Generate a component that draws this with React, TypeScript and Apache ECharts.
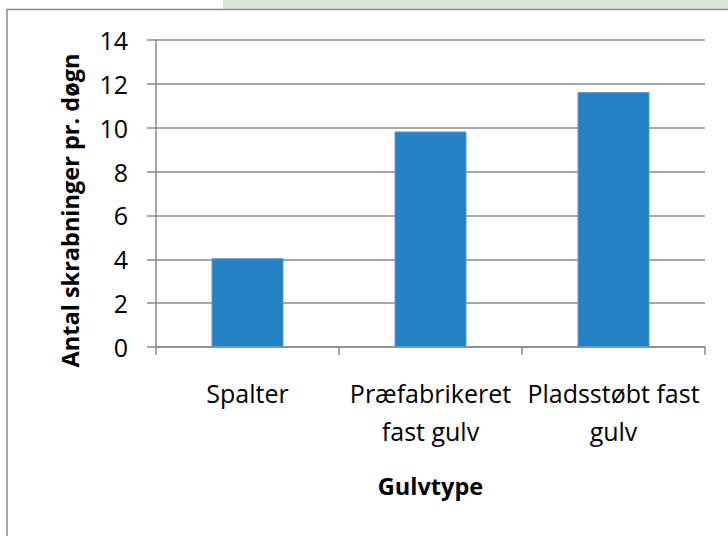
import React, { useEffect, useRef } from "react";
import * as echarts from "echarts";

const categories = ["Spalter", "Præfabrikeret\nfast gulv", "Pladsstøbt fast\ngulv"];
const values = [4.05, 9.83, 11.63];
const xTitle = "Gulvtype";
const yTitle = "Antal skrabninger pr. døgn";

const FONT = "'Open Sans', 'Noto Sans', sans-serif";
const GRAY = "#8a8a8a";

export default function App() {
  const ref = useRef<HTMLDivElement>(null);
  useEffect(() => {
    if (!ref.current) return;
    const chart = echarts.init(ref.current, null, { renderer: "svg" });
    chart.setOption({
      animation: false,
      backgroundColor: "#ffffff",
      graphic: [
        { type: "rect", shape: { x: 223, y: 0, width: 510, height: 9 }, style: { fill: "#d7e9d6" }, silent: true },
        { type: "rect", shape: { x: 7, y: 9.5, width: 760, height: 540 }, style: { fill: "none", stroke: GRAY, lineWidth: 1.5 }, silent: true },
      ],
      grid: { left: 156, right: 23, top: 40, bottom: 189 },
      xAxis: {
        type: "category",
        data: categories,
        name: xTitle,
        nameLocation: "middle",
        nameGap: 127,
        nameTextStyle: { fontFamily: FONT, fontSize: 23.5, fontWeight: "bold", color: "#000" },
        axisLine: { lineStyle: { color: GRAY, width: 1.5 } },
        axisTick: { show: true, length: 8, lineStyle: { color: GRAY, width: 1.5 } },
        axisLabel: { interval: 0, margin: 27, fontFamily: FONT, fontSize: 25, color: "#000", lineHeight: 38 },
      },
      yAxis: {
        type: "value",
        min: 0,
        max: 14,
        interval: 2,
        name: yTitle,
        nameLocation: "middle",
        nameRotate: 90,
        nameGap: 74,
        nameTextStyle: { fontFamily: FONT, fontSize: 23.5, fontWeight: "bold", color: "#000", padding: [0, 34, 0, 0] },
        axisLine: { show: true, lineStyle: { color: GRAY, width: 1.5 } },
        axisTick: { show: true, length: 9, lineStyle: { color: GRAY, width: 1.5 } },
        splitLine: { show: true, lineStyle: { color: GRAY, width: 1.5 } },
        axisLabel: { margin: 28, fontFamily: FONT, fontSize: 25, color: "#000" },
      },
      series: [
        {
          type: "bar",
          data: values,
          barWidth: 72,
          itemStyle: { color: "#2482c3", borderColor: "#5b9bd5", borderWidth: 1 },
        },
      ],
    });
    return () => chart.dispose();
  }, []);
  return <div ref={ref} style={{ position: "absolute", left: 0, top: 0, width: 728, height: 536 }} />;
}
